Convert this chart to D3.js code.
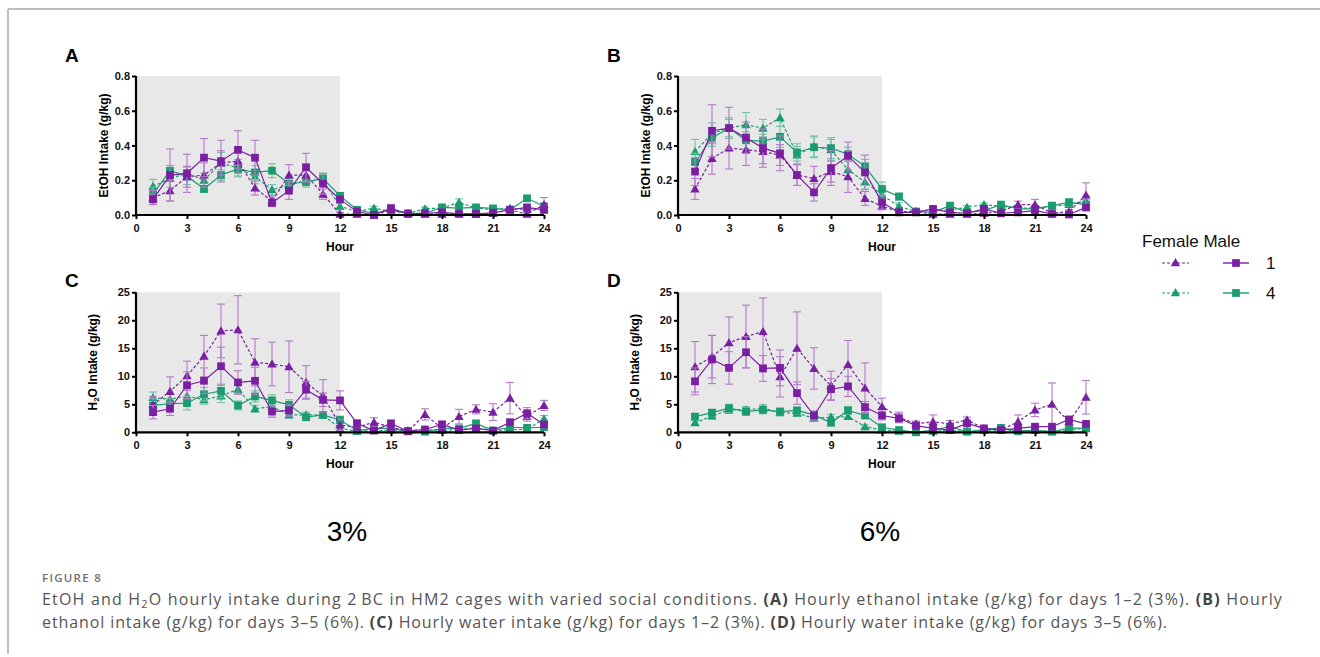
<!DOCTYPE html>
<html><head><meta charset="utf-8">
<script src="https://cdn.jsdelivr.net/npm/d3@7"></script>
<style>body{margin:0;background:#fff;} svg{display:block;}</style>
</head><body><svg id="c" width="1320" height="657"></svg>
<script>
const hours = d3.range(1, 25);
const xTicks = [0, 3, 6, 9, 12, 15, 18, 21, 24];
const etohTicks = [0, 0.2, 0.4, 0.6, 0.8];
const h2oTicks = [0, 5, 10, 15, 20, 25];

// Panel A: EtOH 3%
const A_F1 = [0.10,0.14,0.22,0.23,0.30,0.31,0.155,0.08,0.23,0.23,0.12,0.005,0.005,0.00,0.03,0.01,0.005,0.005,0.01,0.005,0.01,0.03,0.005,0.06];
const A_F1e = [0.04,0.06,0.06,0.07,0.07,0.07,0.04,0.03,0.06,0.04,0.03,0.01,0.01,0.01,0.01,0.01,0.01,0.01,0.01,0.01,0.01,0.01,0.01,0.04];
const A_M1 = [0.09,0.23,0.24,0.33,0.31,0.375,0.33,0.07,0.14,0.275,0.18,0.09,0.02,0.00,0.04,0.006,0.01,0.015,0.006,0.006,0.013,0.03,0.044,0.03];
const A_M1e = [0.03,0.15,0.11,0.11,0.12,0.11,0.10,0.02,0.05,0.08,0.06,0.02,0.01,0.01,0.01,0.01,0.01,0.01,0.01,0.01,0.01,0.01,0.01,0.02];
const A_F4 = [0.165,0.21,0.24,0.20,0.30,0.27,0.22,0.145,0.17,0.20,0.20,0.05,0.02,0.04,0.02,0.01,0.036,0.04,0.073,0.04,0.03,0.04,0.03,0.04];
const A_F4e = [0.04,0.05,0.04,0.04,0.06,0.05,0.04,0.03,0.03,0.03,0.03,0.02,0.01,0.01,0.01,0.01,0.01,0.01,0.02,0.01,0.01,0.01,0.01,0.01];
const A_M4 = [0.12,0.255,0.225,0.15,0.23,0.265,0.245,0.255,0.18,0.19,0.21,0.11,0.03,0.01,0.03,0.01,0.01,0.044,0.04,0.044,0.038,0.03,0.096,0.05];
const A_M4e = [0.04,0.03,0.05,0.02,0.03,0.04,0.04,0.04,0.03,0.03,0.03,0.02,0.01,0.01,0.01,0.01,0.01,0.01,0.01,0.01,0.01,0.01,0.01,0.01];

// Panel B: EtOH 6%
const B_F1 = [0.15,0.325,0.385,0.375,0.365,0.345,0.23,0.21,0.25,0.22,0.095,0.05,0.02,0.02,0.005,0.005,0.005,0.01,0.02,0.06,0.06,0.01,0.02,0.115];
const B_F1e = [0.06,0.09,0.12,0.09,0.07,0.06,0.06,0.07,0.06,0.09,0.04,0.02,0.01,0.01,0.01,0.01,0.01,0.01,0.01,0.02,0.03,0.01,0.01,0.07];
const B_M1 = [0.25,0.485,0.50,0.445,0.385,0.355,0.23,0.13,0.27,0.34,0.245,0.073,0.015,0.015,0.035,0.015,0.01,0.035,0.01,0.015,0.025,0.006,0.003,0.044];
const B_M1e = [0.08,0.15,0.12,0.09,0.11,0.10,0.06,0.05,0.10,0.08,0.10,0.04,0.01,0.01,0.01,0.01,0.01,0.01,0.01,0.01,0.01,0.01,0.01,0.02];
const B_F4 = [0.365,0.47,0.50,0.52,0.50,0.56,0.345,0.395,0.375,0.26,0.19,0.115,0.05,0.02,0.03,0.03,0.044,0.06,0.05,0.04,0.04,0.05,0.06,0.08];
const B_F4e = [0.07,0.06,0.06,0.07,0.05,0.05,0.05,0.06,0.06,0.05,0.04,0.03,0.02,0.01,0.01,0.01,0.01,0.01,0.01,0.01,0.01,0.01,0.01,0.01];
const B_M4 = [0.305,0.445,0.50,0.43,0.425,0.45,0.36,0.39,0.385,0.35,0.28,0.15,0.106,0.02,0.015,0.054,0.015,0.025,0.06,0.035,0.035,0.054,0.073,0.06];
const B_M4e = [0.05,0.05,0.05,0.05,0.04,0.06,0.05,0.06,0.06,0.04,0.04,0.04,0.02,0.01,0.01,0.01,0.01,0.01,0.01,0.01,0.01,0.01,0.02,0.01];

// Panel C: H2O 3%
const C_F1 = [4.9,7.3,10.1,13.6,18.1,18.3,12.5,12.2,11.7,8.9,6.5,1.3,0.9,1.8,0.9,0.2,3.2,0.7,2.8,4.1,3.6,6.1,2.8,4.8];
const C_F1e = [1.5,2.6,2.6,3.7,4.8,6.1,4.2,3.9,4.6,3.0,2.9,1.0,0.8,0.8,0.5,0.2,1.0,0.5,1.3,0.8,1.5,2.8,0.8,0.9];
const C_M1 = [3.6,4.2,8.4,9.2,11.8,8.9,9.2,3.7,3.9,7.6,5.8,5.7,1.6,0.3,1.6,0.2,0.5,1.4,0.4,0.7,0.3,1.8,3.4,1.4];
const C_M1e = [1.2,1.2,2.4,2.3,3.4,2.1,2.4,1.0,1.0,1.5,1.2,1.7,0.6,0.3,0.5,0.1,0.3,0.6,0.2,0.3,0.2,0.5,1.0,0.5];
const C_F4 = [6.2,5.9,6.5,5.8,6.5,7.7,4.2,4.6,3.1,3.1,3.1,0.7,0.2,0.3,0.4,0.3,0.5,0.3,0.5,0.8,0.3,0.5,0.5,2.4];
const C_F4e = [1.0,1.0,1.5,0.8,1.2,0.8,0.6,0.6,0.5,0.5,0.5,0.5,0.2,0.2,0.2,0.1,0.2,0.1,0.2,0.3,0.1,0.2,0.2,0.6];
const C_M4 = [4.8,5.1,5.2,6.8,7.4,4.8,6.4,5.7,4.9,2.7,3.1,2.2,0.3,0.7,0.7,0.2,0.1,0.7,0.7,1.6,0.3,0.9,0.8,0.9];
const C_M4e = [1.2,1.0,1.2,1.2,1.2,0.8,1.0,1.0,0.9,0.6,0.6,0.7,0.2,0.2,0.2,0.1,0.1,0.2,0.2,0.3,0.1,0.2,0.2,0.3];

// Panel D: H2O 6%
const D_F1 = [11.7,13.5,16.0,17.1,18.0,9.9,15.0,11.4,8.3,12.1,7.9,4.6,2.7,1.5,1.9,1.5,2.2,0.7,0.4,1.9,4.0,5.0,1.9,6.25];
const D_F1e = [4.5,3.8,4.6,5.6,6.0,3.6,6.5,3.7,2.6,4.3,4.5,1.5,0.9,0.5,1.2,0.6,0.5,0.3,0.3,1.2,1.2,3.8,0.5,3.0];
const D_M1 = [9.1,13.0,11.5,14.3,11.4,11.5,7.0,3.0,7.7,8.2,4.5,3.0,2.5,1.2,0.7,0.4,1.6,0.7,0.4,0.7,1.0,1.0,2.3,1.5];
const D_M1e = [2.4,4.3,2.9,2.8,2.3,3.2,2.0,0.8,1.9,1.8,1.0,0.8,0.8,0.5,0.3,0.2,0.4,0.2,0.2,0.3,0.3,0.2,0.4,0.3];
const D_F4 = [1.7,2.9,4.0,4.0,4.3,3.5,3.4,2.5,2.7,2.8,1.0,0.4,0.2,0.1,0.2,0.3,0.2,0.3,0.5,0.3,0.3,0.2,0.3,0.8];
const D_F4e = [0.4,0.5,0.6,0.6,0.6,0.5,0.5,0.4,0.5,0.5,0.3,0.2,0.1,0.1,0.1,0.1,0.1,0.1,0.1,0.1,0.1,0.1,0.1,0.2];
const D_M4 = [2.8,3.5,4.3,3.7,4.0,3.7,3.9,3.1,1.7,3.9,3.0,0.9,0.4,0.0,0.4,1.0,0.1,0.5,0.8,0.2,0.4,0.1,0.8,0.7];
const D_M4e = [0.5,0.6,0.7,0.7,0.7,0.6,0.6,0.5,0.5,0.7,0.5,0.3,0.2,0.1,0.1,0.2,0.1,0.1,0.2,0.1,0.1,0.1,0.2,0.2];

const PURPLE = "#7b1fa2", GREEN = "#1a9b70";
const PURPLE_E = "#b47ac8", GREEN_E = "#72c4a2";

const svg = d3.select("#c");
const FONT = "Arial, 'Liberation Sans', sans-serif";

// frame
svg.append("line").attr("x1", 8).attr("x2", 1320).attr("y1", 9).attr("y2", 9).attr("stroke", "#a8a8a8").attr("stroke-width", 1.5);
svg.append("line").attr("x1", 8).attr("x2", 8).attr("y1", 9).attr("y2", 654).attr("stroke", "#a8a8a8").attr("stroke-width", 1.5);

const panels = [
  {letter: "A", left: 136, right: 544, top: 76, bottom: 215, max: 0.8, ticks: etohTicks, fmt: d3.format(".1f"), title: "etoh", titleDx: 31,
   series: [[A_F4, A_F4e, "F", GREEN, GREEN_E], [A_M4, A_M4e, "M", GREEN, GREEN_E], [A_F1, A_F1e, "F", PURPLE, PURPLE_E], [A_M1, A_M1e, "M", PURPLE, PURPLE_E]]},
  {letter: "B", left: 678, right: 1086, top: 76, bottom: 215, max: 0.8, ticks: etohTicks, fmt: d3.format(".1f"), title: "etoh", titleDx: 31,
   series: [[B_F4, B_F4e, "F", GREEN, GREEN_E], [B_M4, B_M4e, "M", GREEN, GREEN_E], [B_F1, B_F1e, "F", PURPLE, PURPLE_E], [B_M1, B_M1e, "M", PURPLE, PURPLE_E]]},
  {letter: "C", left: 136, right: 544, top: 292.3, bottom: 432.3, max: 25, ticks: h2oTicks, fmt: d3.format("d"), title: "h2o", titleDx: 42,
   series: [[C_F4, C_F4e, "F", GREEN, GREEN_E], [C_M4, C_M4e, "M", GREEN, GREEN_E], [C_F1, C_F1e, "F", PURPLE, PURPLE_E], [C_M1, C_M1e, "M", PURPLE, PURPLE_E]]},
  {letter: "D", left: 678, right: 1086, top: 292.3, bottom: 432.3, max: 25, ticks: h2oTicks, fmt: d3.format("d"), title: "h2o", titleDx: 42,
   series: [[D_F4, D_F4e, "F", GREEN, GREEN_E], [D_M4, D_M4e, "M", GREEN, GREEN_E], [D_F1, D_F1e, "F", PURPLE, PURPLE_E], [D_M1, D_M1e, "M", PURPLE, PURPLE_E]]}
];

const tri = d3.symbol().type(d3.symbolTriangle).size(38);
const sq = d3.symbol().type(d3.symbolSquare).size(60);

panels.forEach(p => {
  const g = svg.append("g");
  const x = d3.scaleLinear().domain([0, 24]).range([p.left, p.right]);
  const y = d3.scaleLinear().domain([0, p.max]).range([p.bottom, p.top]);

  // dark phase shading
  g.append("rect").attr("x", x(0)).attr("y", y(p.max)).attr("width", x(12) - x(0)).attr("height", y(0) - y(p.max)).attr("fill", "#e8e8e8");

  // letter
  g.append("text").attr("x", p.left - 71).attr("y", p.letter === "A" || p.letter === "B" ? 62 : 287)
    .attr("font-family", FONT).attr("font-weight", "bold").attr("font-size", 19).text(p.letter);

  // series
  p.series.forEach(([vals, errs, sex, col, ecol]) => {
    const pts = hours.map((h, i) => ({h, v: vals[i], e: errs[i]}));
    const eg = g.append("g").attr("stroke", ecol).attr("stroke-width", 1.1).attr("fill", "none");
    pts.forEach(d => {
      const lo = Math.max(0, d.v - d.e), hi = d.v + d.e;
      eg.append("line").attr("x1", x(d.h)).attr("x2", x(d.h)).attr("y1", y(lo)).attr("y2", y(hi));
      eg.append("line").attr("x1", x(d.h) - 4).attr("x2", x(d.h) + 4).attr("y1", y(hi)).attr("y2", y(hi));
      eg.append("line").attr("x1", x(d.h) - 4).attr("x2", x(d.h) + 4).attr("y1", y(lo)).attr("y2", y(lo));
    });
    g.append("path").datum(pts)
      .attr("d", d3.line().x(d => x(d.h)).y(d => y(d.v)))
      .attr("fill", "none").attr("stroke", col).attr("stroke-width", 1.2)
      .attr("stroke-dasharray", sex === "F" ? "3,2" : null);
    g.append("g").selectAll("path").data(pts).join("path")
      .attr("transform", d => `translate(${x(d.h)},${y(d.v) + (sex === "F" ? 0.8 : 0)})`)
      .attr("d", sex === "F" ? tri : sq).attr("fill", col);
  });

  // axes
  const xa = g.append("g").attr("transform", `translate(0,${p.bottom})`)
    .call(d3.axisBottom(x).tickValues(xTicks).tickSize(4).tickPadding(5).tickFormat(d3.format("d")));
  const ya = g.append("g").attr("transform", `translate(${p.left},0)`)
    .call(d3.axisLeft(y).tickValues(p.ticks).tickSize(4).tickPadding(2).tickFormat(p.fmt));
  [xa, ya].forEach(a => {
    a.select(".domain").attr("stroke", "#000").attr("stroke-width", 2.2);
    a.selectAll(".tick line").attr("stroke", "#000").attr("stroke-width", 2);
    a.selectAll("text").attr("font-family", FONT).attr("font-weight", "bold").attr("font-size", 11).attr("fill", "#111");
  });
  xa.select(".domain").attr("d", `M${p.left},0H${p.right}`);
  ya.select(".domain").attr("d", `M0,${p.top}V${p.bottom}`);

  // axis titles
  g.append("text").attr("x", (p.left + p.right) / 2).attr("y", p.bottom + 36)
    .attr("text-anchor", "middle").attr("font-family", FONT).attr("font-weight", "bold").attr("font-size", 12).text("Hour");
  const yt = g.append("text")
    .attr("transform", `translate(${p.left - p.titleDx},${(p.top + p.bottom) / 2}) rotate(-90)`)
    .attr("text-anchor", "middle").attr("dominant-baseline", "middle")
    .attr("font-family", FONT).attr("font-weight", "bold").attr("font-size", 12);
  if (p.title === "etoh") {
    yt.text("EtOH Intake (g/kg)");
  } else {
    yt.append("tspan").text("H");
    yt.append("tspan").attr("font-size", 8).attr("dy", 3).text("2");
    yt.append("tspan").attr("dy", -3).text("O Intake (g/kg)");
  }
});

// concentration labels
svg.append("text").attr("x", 347).attr("y", 541).attr("text-anchor", "middle").attr("font-family", FONT).attr("font-size", 28).text("3%");
svg.append("text").attr("x", 880).attr("y", 541).attr("text-anchor", "middle").attr("font-family", FONT).attr("font-size", 28).text("6%");

// legend
const lg = svg.append("g").attr("font-family", FONT);
lg.append("text").attr("x", 1142).attr("y", 247).attr("font-size", 17).attr("fill", "#111").text("Female Male");
const legendRows = [{lab: "1", col: PURPLE, y: 263}, {lab: "4", col: GREEN, y: 293}];
legendRows.forEach(r => {
  lg.append("line").attr("x1", 1162).attr("x2", 1189).attr("y1", r.y).attr("y2", r.y).attr("stroke", r.col).attr("stroke-width", 1.2).attr("stroke-dasharray", "3,2");
  lg.append("path").attr("d", tri).attr("transform", `translate(1175.5,${r.y + 0.5})`).attr("fill", r.col);
  lg.append("line").attr("x1", 1223).attr("x2", 1249).attr("y1", r.y).attr("y2", r.y).attr("stroke", r.col).attr("stroke-width", 1.4);
  lg.append("path").attr("d", sq).attr("transform", `translate(1236,${r.y})`).attr("fill", r.col);
  lg.append("text").attr("x", 1266).attr("y", r.y + 6).attr("font-size", 17).attr("fill", "#111").text(r.lab);
});

// caption
const CF = "'Open Sans', 'Noto Sans', sans-serif";
const fig = svg.append("text").attr("x", 42).attr("y", 582).attr("font-family", CF).attr("font-size", 11.5)
  .attr("font-weight", 600).attr("fill", "#707070").text("FIGURE 8");
function fit(t, target) {
  const n = t.text().length;
  const len = t.node().getComputedTextLength();
  t.attr("letter-spacing", ((target - len) / n).toFixed(3));
}
fit(fig, 60);
const cap1 = svg.append("text").attr("x", 42).attr("y", 605).attr("font-family", CF).attr("font-size", 16).attr("fill", "#555");
cap1.append("tspan").text("EtOH and H");
cap1.append("tspan").attr("font-size", 11).attr("dy", 3).text("2");
cap1.append("tspan").attr("dy", -3).text("O hourly intake during 2\u2009BC in HM2 cages with varied social conditions. ");
cap1.append("tspan").attr("font-weight", "bold").attr("fill", "#444").text("(A)");
cap1.append("tspan").text(" Hourly ethanol intake (g/kg) for days 1\u20132 (3%). ");
cap1.append("tspan").attr("font-weight", "bold").attr("fill", "#444").text("(B)");
cap1.append("tspan").text(" Hourly");
const cap2 = svg.append("text").attr("x", 42).attr("y", 628).attr("font-family", CF).attr("font-size", 16).attr("fill", "#555");
cap2.append("tspan").text("ethanol intake (g/kg) for days 3\u20135 (6%). ");
cap2.append("tspan").attr("font-weight", "bold").attr("fill", "#444").text("(C)");
cap2.append("tspan").text(" Hourly water intake (g/kg) for days 1\u20132 (3%). ");
cap2.append("tspan").attr("font-weight", "bold").attr("fill", "#444").text("(D)");
cap2.append("tspan").text(" Hourly water intake (g/kg) for days 3\u20135 (6%).");
fit(cap1, 1241);
fit(cap2, 1126);
</script>
</body></html>
